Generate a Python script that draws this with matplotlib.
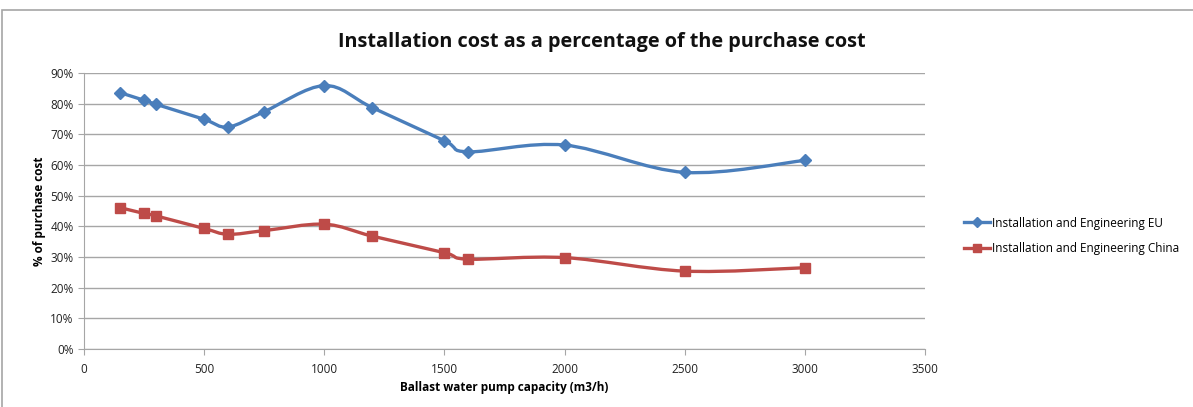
import matplotlib
matplotlib.use("Agg")
import matplotlib.pyplot as plt
from matplotlib.path import Path
from matplotlib.patches import PathPatch, Rectangle
from matplotlib.lines import Line2D
from matplotlib.ticker import FuncFormatter, MultipleLocator

plt.rcParams['font.family'] = ['Open Sans', 'DejaVu Sans']

# Pump capacity (m3/h)
capacity = [150, 250, 300, 500, 600, 750, 1000, 1200, 1500, 1600, 2000, 2500, 3000]
# Installation cost as share of purchase cost
eu_pct = [83.6, 81.1, 79.8, 74.9, 72.4, 77.4, 85.9, 78.7, 67.9, 64.3, 66.5, 57.6, 61.5]
china_pct = [46.1, 44.2, 43.4, 39.3, 37.4, 38.6, 40.7, 36.8, 31.4, 29.3, 29.8, 25.4, 26.5]

series_names = ["Installation and Engineering EU", "Installation and Engineering China"]
blue = "#4A7EBB"
red = "#BE4B48"

fig = plt.figure(figsize=(11.93, 4.07), dpi=100)
ax = fig.add_axes([84 / 1193, 1 - 349 / 407, (925 - 84) / 1193, (349 - 73) / 407])

# chart frame
fig.patches.append(Rectangle((2 / 1193, -0.05), 1.2, 1 - 10 / 407 + 0.05,
                             transform=fig.transFigure, fill=False,
                             edgecolor="#a6a6a6", linewidth=1.2))


def smooth_path(xs, ys):
    """Bezier path through the points, smoothed like a spreadsheet line chart."""
    pts = list(zip(xs, ys))
    verts = [pts[0]]
    codes = [Path.MOVETO]
    n = len(pts)
    for i in range(n - 1):
        p0 = pts[i - 1] if i > 0 else pts[i]
        p1 = pts[i]
        p2 = pts[i + 1]
        p3 = pts[i + 2] if i + 2 < n else pts[i + 1]
        c1 = (p1[0] + (p2[0] - p0[0]) / 6, p1[1] + (p2[1] - p0[1]) / 6)
        c2 = (p2[0] - (p3[0] - p1[0]) / 6, p2[1] - (p3[1] - p1[1]) / 6)
        verts += [c1, c2, p2]
        codes += [Path.CURVE4] * 3
    return Path(verts, codes)


for vals, col, mk, ms in [(eu_pct, blue, "D", 6), (china_pct, red, "s", 7.5)]:
    ax.add_patch(PathPatch(smooth_path(capacity, vals), facecolor="none",
                           edgecolor=col, linewidth=2.4, zorder=3))
    ax.plot(capacity, vals, linestyle="none", marker=mk, markersize=ms,
            color=col, zorder=4)

ax.set_xlim(0, 3500)
ax.set_ylim(0, 90)
ax.xaxis.set_major_locator(MultipleLocator(500))
ax.yaxis.set_major_locator(MultipleLocator(10))
ax.yaxis.set_major_formatter(FuncFormatter(lambda v, p: f"{v:.0f}%"))
ax.grid(axis="y", color="#a6a6a6", linewidth=1.0)
ax.set_axisbelow(True)
for s in ["top", "right"]:
    ax.spines[s].set_visible(False)
for s in ["left", "bottom"]:
    ax.spines[s].set_color("#a6a6a6")
ax.tick_params(axis="both", colors="#a6a6a6", labelcolor="#222222",
               labelsize=8.5, length=4)
ax.tick_params(axis="x", pad=6)

ax.set_xlabel("Ballast water pump capacity (m3/h)", fontsize=8.5,
              fontweight="bold", labelpad=4)
ax.set_ylabel("% of purchase cost", fontsize=8.5, fontweight="bold", labelpad=3)

fig.text(602 / 1193, 1 - 42 / 407, "Installation cost as a percentage of the purchase cost",
         ha="center", va="center", fontsize=14.3, fontweight="bold", color="#111111")

handles = [Line2D([], [], color=blue, marker="D", markersize=5, linewidth=2.4),
           Line2D([], [], color=red, marker="s", markersize=6, linewidth=2.4)]
fig.legend(handles, series_names, loc="center left",
           bbox_to_anchor=(953 / 1193, 1 - 236 / 407), frameon=False,
           fontsize=8.5, handlelength=2.2, handletextpad=0.2, labelspacing=1.1)

fig.savefig("out.png", dpi=100)
